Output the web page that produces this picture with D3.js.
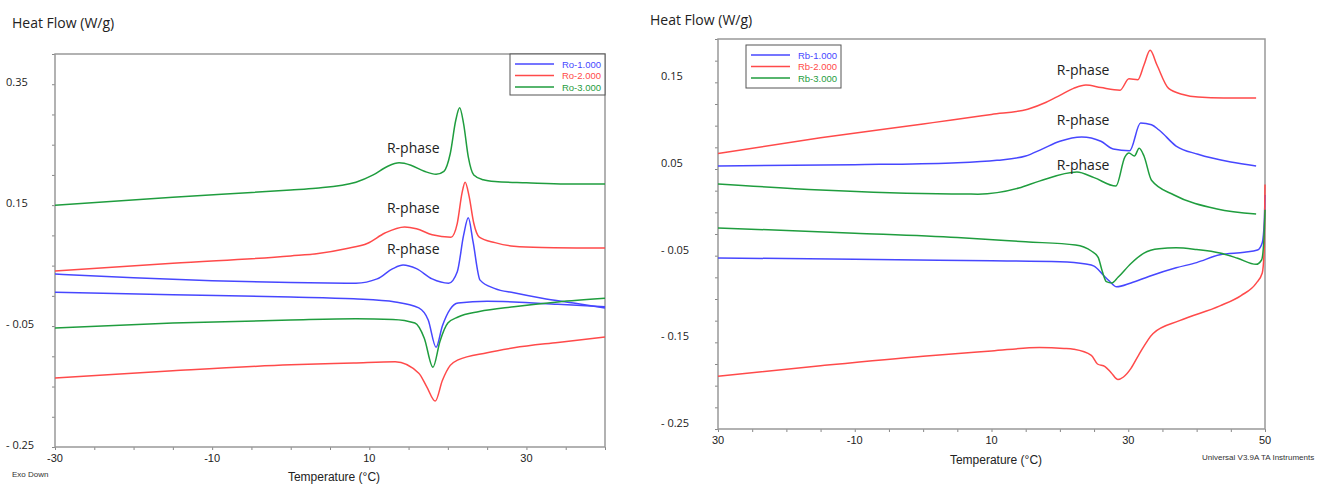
<!DOCTYPE html>
<html lang="en">
<head>
<meta charset="UTF-8">
<title>DSC heat flow</title>
<style>
  body { margin: 0; background: #fff; }
  svg text { font-family: "Liberation Sans", Arial, sans-serif; }
  svg text.soft { font-family: "Open Sans", sans-serif; }
</style>
</head>
<body>
<div id="chart"></div>
<script src="https://d3js.org/d3.v7.min.js"></script>
<script>

// ---- left panel (Ro samples), [temperature °C, heat flow W/g] ----
const roNames = ["Ro-1.000", "Ro-2.000", "Ro-3.000"];
const roTicksY = [0.35, 0.15, -0.05, -0.25];
const roTickLabelsY = ["0.35", "0.15", "- 0.05", "- 0.25"];
const roTicksX = [-30, -10, 10, 30];
const roTickLabelsX = ["-30", "-10", "10", "30"];

const ro1Heat = [[-30, 0.036], [-20, 0.030], [-10, 0.025], [0, 0.022], [8.3, 0.021], [11, 0.028],
  [13, 0.045], [14.3, 0.051], [16, 0.045], [18, 0.028], [20.1, 0.021], [21.2, 0.040], [22, 0.100],
  [22.6, 0.129], [23.2, 0.090], [24.1, 0.026], [26, 0.012], [28.4, 0.005], [32, -0.004], [36, -0.012], [40, -0.020]];
const ro1Cool = [[-30, 0.006], [-15, 0.002], [0, -0.002], [8, -0.005], [13.3, -0.010], [16.3, -0.020],
  [17.5, -0.040], [18.5, -0.085], [19.3, -0.050], [20.3, -0.022], [21.3, -0.012], [25, -0.009],
  [28.4, -0.010], [34, -0.014], [40, -0.018]];
const ro2Heat = [[-30, 0.041], [-15, 0.054], [0, 0.066], [3.5, 0.070], [7, 0.078], [9.8, 0.087],
  [12, 0.104], [14.5, 0.114], [16, 0.111], [18, 0.101], [20.4, 0.097], [21.2, 0.120], [21.8, 0.170],
  [22.2, 0.188], [22.7, 0.165], [23.3, 0.120], [24, 0.097], [26, 0.088], [28.4, 0.082], [32, 0.080], [40, 0.079]];
const ro2Cool = [[-30, -0.136], [-15, -0.124], [0, -0.114], [8, -0.111], [13.3, -0.109], [16.3, -0.128],
  [17.3, -0.150], [18.4, -0.174], [19.3, -0.140], [20.3, -0.115], [21.3, -0.106], [25, -0.094],
  [28.4, -0.086], [34, -0.077], [40, -0.068]];
const ro3Heat = [[-30, 0.150], [-15, 0.163], [0, 0.175], [3.2, 0.178], [8.3, 0.188], [10.5, 0.200],
  [12.3, 0.214], [13.8, 0.220], [15.3, 0.216], [17, 0.206], [18.5, 0.201], [19.5, 0.206], [20.3, 0.235],
  [21, 0.290], [21.5, 0.311], [22, 0.285], [22.6, 0.230], [23.3, 0.200], [24.5, 0.192], [26, 0.189],
  [30, 0.187], [35, 0.185], [40, 0.185]];
const ro3Cool = [[-30, -0.053], [-15, -0.045], [0, -0.040], [8.3, -0.038], [13, -0.039], [15.8, -0.045],
  [17, -0.070], [18.1, -0.118], [19, -0.075], [20, -0.045], [21.3, -0.035], [24, -0.026],
  [28.4, -0.018], [34, -0.010], [40, -0.004]];
const roPhase = [[15.6, 0.243], [15.6, 0.144], [15.6, 0.076]];

// ---- right panel (Rb samples) ----
const rbNames = ["Rb-1.000", "Rb-2.000", "Rb-3.000"];
const rbTicksY = [0.15, 0.05, -0.05, -0.15, -0.25];
const rbTickLabelsY = ["0.15", "0.05", "- 0.05", "- 0.15", "- 0.25"];
const rbTicksX = [-30, -10, 10, 30, 50];
const rbTickLabelsX = ["30", "-10", "10", "30", "50"];

const rb1Heat = [[-30, 0.0535], [-10, 0.055], [4.2, 0.057], [10.8, 0.060], [15, 0.065], [17.4, 0.073],
  [20, 0.082], [23.2, 0.087], [26, 0.082], [27.8, 0.073], [30.2, 0.071], [31.8, 0.103], [33.4, 0.101],
  [34.5, 0.095], [37, 0.0765], [40.2, 0.067], [45, 0.058], [48.7, 0.0535]];
const rb1Cool = [[-30, -0.0527], [-10, -0.054], [10, -0.056], [20, -0.057], [23.8, -0.0596], [25, -0.062],
  [26.3, -0.072], [27.2, -0.079], [28.3, -0.086], [30.4, -0.0815], [33, -0.074], [37, -0.064],
  [40, -0.058], [43.4, -0.049], [47, -0.046], [48.9, -0.0435], [49.6, -0.035], [49.9, -0.010], [50, 0.020]];
const rb2Heat = [[-30, 0.068], [-15, 0.086], [0, 0.102], [4.2, 0.1065], [10, 0.113], [15.3, 0.119],
  [18, 0.127], [20, 0.135], [22, 0.143], [23.8, 0.147], [26, 0.144], [28.8, 0.141], [30.1, 0.154],
  [31.4, 0.153], [32.3, 0.170], [33.2, 0.187], [34.2, 0.170], [35.9, 0.143], [38, 0.136], [40.2, 0.133],
  [44, 0.132], [48.7, 0.132]];
const rb2Cool = [[-30, -0.189], [-15, -0.177], [0, -0.166], [10, -0.160], [17, -0.156], [20.6, -0.157],
  [22, -0.158], [24.6, -0.165], [25.5, -0.175], [26.6, -0.178], [27.5, -0.185], [28.5, -0.193],
  [29.3, -0.190], [30.4, -0.180], [31.5, -0.165], [33.6, -0.140], [37.5, -0.125], [43.4, -0.108],
  [46.5, -0.096], [48.7, -0.082], [49.6, -0.070], [49.9, -0.040], [50, 0.032]];
const rb3Heat = [[-30, 0.0327], [-15, 0.0258], [4.2, 0.0212], [8, 0.021], [14, 0.028], [17, 0.036],
  [22.5, 0.0465], [25, 0.040], [28.2, 0.0304], [29.5, 0.0638], [30.1, 0.0685], [30.9, 0.065],
  [31.6, 0.074], [32.3, 0.065], [33.4, 0.037], [36.7, 0.020], [43, 0.0038], [48.7, -0.002]];
const rb3Cool = [[-30, -0.018], [-10, -0.024], [5, -0.029], [15, -0.034], [22.3, -0.0377], [23.5, -0.040],
  [24.6, -0.0446], [25.6, -0.052], [26.2, -0.068], [26.8, -0.080], [27.6, -0.0815], [28.5, -0.075],
  [30.4, -0.059], [32.3, -0.047], [34.5, -0.042], [37, -0.041], [40, -0.043], [43.4, -0.047],
  [46, -0.053], [48.7, -0.060], [49.5, -0.055], [49.85, -0.030], [50, 0.003]];
const rbPhase = [[23.4, 0.163], [23.4, 0.105], [23.4, 0.053]];

const colors = ["#4747ff", "#ff4a4a", "#1f9d3e"];

const svg = d3.select("#chart")
  .append("svg")
    .attr("width", 1335)
    .attr("height", 486);

function drawPanel(p) {
  const x = d3.scaleLinear().domain(p.xDomain).range([p.left, p.right]);
  const y = d3.scaleLinear().domain(p.yDomain).range([p.bottom, p.top]);
  const g = svg.append("g");

  // small tick marks
  g.append("g")
    .attr("transform", `translate(0,${p.bottom})`)
    .call(d3.axisBottom(x).tickValues(d3.range(p.xDomain[0], p.xDomain[1] + 0.01, 5)).tickSize(3).tickFormat(""))
    .call(a => a.select(".domain").remove())
    .selectAll("line").attr("stroke", "#888");
  g.append("g")
    .attr("transform", `translate(${p.left},0)`)
    .call(d3.axisLeft(y).tickValues(d3.range(p.yDomain[0], p.yDomain[1] + 0.001, p.yStep)).tickSize(3).tickFormat(""))
    .call(a => a.select(".domain").remove())
    .selectAll("line").attr("stroke", "#888");

  // frame
  g.append("rect")
    .attr("x", p.left).attr("y", p.top)
    .attr("width", p.right - p.left).attr("height", p.bottom - p.top)
    .attr("fill", "none").attr("stroke", "#999").attr("stroke-width", 1.5);

  // tick labels
  g.selectAll(".ylab").data(p.ticksY).join("text")
    .attr("class", "soft")
    .attr("x", p.labelX).attr("y", d => y(d) + p.labelDy)
    .attr("dominant-baseline", "middle")
    .style("font-size", "11px").attr("fill", "#222")
    .text((d, i) => p.tickLabelsY[i]);
  g.selectAll(".xlab").data(p.ticksX).join("text")
    .attr("x", d => x(d)).attr("y", p.bottom + 15)
    .attr("text-anchor", "middle")
    .style("font-size", "11px").attr("fill", "#222")
    .text((d, i) => p.tickLabelsX[i]);

  // title + axis name
  g.append("text").attr("class", "soft")
    .attr("x", p.titleX).attr("y", p.titleY)
    .style("font-size", "14px").attr("fill", "#222")
    .text("Heat Flow (W/g)");
  g.append("text")
    .attr("x", p.xNameX).attr("y", p.xNameY)
    .attr("text-anchor", "middle")
    .style("font-size", "12px").attr("fill", "#222")
    .text("Temperature (°C)");

  // curves
  const line = d3.line()
    .x(d => x(d[0]))
    .y(d => y(d[1]))
    .curve(d3.curveMonotoneX);
  p.curves.forEach(c => {
    g.append("path")
      .datum(c.data)
      .attr("d", line)
      .attr("fill", "none")
      .attr("stroke", colors[c.s])
      .attr("stroke-width", 1.5);
  });

  // R-phase labels
  g.selectAll(".rp").data(p.phase).join("text")
    .attr("class", "soft")
    .attr("x", d => x(d[0])).attr("y", d => y(d[1]))
    .attr("text-anchor", "middle").attr("dominant-baseline", "middle")
    .style("font-size", "14px").attr("fill", "#222")
    .text("R-phase");

  // legend
  const lg = p.legend;
  g.append("rect")
    .attr("x", lg.x).attr("y", lg.y).attr("width", lg.w).attr("height", lg.h)
    .attr("fill", "#fff").attr("stroke", "#555").attr("stroke-width", 1);
  p.names.forEach((n, i) => {
    const yy = lg.y + 10 + i * 11.5;
    g.append("line")
      .attr("x1", lg.x + 5).attr("x2", lg.x + 44)
      .attr("y1", yy).attr("y2", yy)
      .attr("stroke", colors[i]).attr("stroke-width", 1.5);
    g.append("text")
      .attr("x", lg.x + lg.w - 4).attr("y", yy + 3.5)
      .attr("text-anchor", "end")
      .style("font-size", "9.5px").attr("fill", colors[i])
      .text(n);
  });
}

drawPanel({
  xDomain: [-30, 40], yDomain: [-0.25, 0.4], yStep: 0.05,
  left: 55, right: 605, top: 54, bottom: 447,
  ticksY: roTicksY, tickLabelsY: roTickLabelsY, labelX: 6, labelDy: -1,
  ticksX: roTicksX, tickLabelsX: roTickLabelsX,
  titleX: 12, titleY: 28, xNameX: 334, xNameY: 481,
  names: roNames, phase: roPhase,
  legend: {x: 510, y: 54, w: 95, h: 41},
  curves: [
    {data: ro1Heat, s: 0}, {data: ro1Cool, s: 0},
    {data: ro2Heat, s: 1}, {data: ro2Cool, s: 1},
    {data: ro3Heat, s: 2}, {data: ro3Cool, s: 2}
  ]
});

drawPanel({
  xDomain: [-30, 50], yDomain: [-0.25, 0.2], yStep: 0.025,
  left: 718, right: 1265, top: 39, bottom: 429,
  ticksY: rbTicksY, tickLabelsY: rbTickLabelsY, labelX: 661, labelDy: -5,
  ticksX: rbTicksX, tickLabelsX: rbTickLabelsX,
  titleX: 650, titleY: 25, xNameX: 996, xNameY: 464,
  names: rbNames, phase: rbPhase,
  legend: {x: 746, y: 45, w: 95, h: 43},
  curves: [
    {data: rb1Heat, s: 0}, {data: rb1Cool, s: 0},
    {data: rb2Heat, s: 1}, {data: rb2Cool, s: 1},
    {data: rb3Heat, s: 2}, {data: rb3Cool, s: 2}
  ]
});

// small footnotes
svg.append("text")
  .attr("x", 12).attr("y", 477)
  .style("font-size", "8px").attr("fill", "#333")
  .text("Exo Down");
svg.append("text")
  .attr("x", 1202).attr("y", 460)
  .style("font-size", "8px").attr("fill", "#333")
  .text("Universal V3.9A TA Instruments");

</script>
</body>
</html>
